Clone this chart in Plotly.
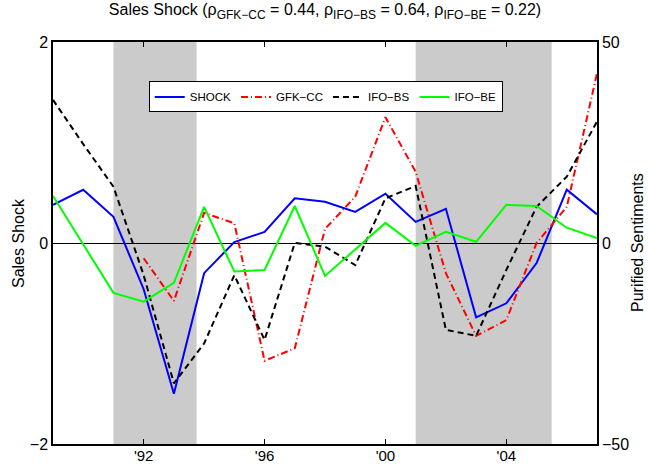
import plotly.graph_objects as go

# Annual observations
years = list(range(1989, 2008))

# Sales shock (left axis)
shock = [0.38, 0.53, 0.26, -0.46, -1.50, -0.30, 0.01, 0.11, 0.445, 0.41,
         0.31, 0.49, 0.21, 0.34, -0.74, -0.60, -0.20, 0.53, 0.285]

# Purified sentiment indicators (right axis)
gfk_cc = [None, None, None, -3.8, -14.4, 7.5, 4.9, -29.3, -26.2, 3.5,
          11.5, 31.3, 17.7, -7.5, -23.1, -19.2, 0.0, 9.0, 42.2]
ifo_bs = [35.6, 24.6, 14.0, -8.0, -34.9, -25.0, -8.0, -24.1, 0.0, -0.9,
          -5.5, 11.1, 14.2, -21.6, -23.1, -6.7, 9.0, 16.5, 30.2]
ifo_be = [11.7, -0.3, -12.4, -14.6, -9.9, 9.0, -7.1, -6.7, 9.2, -8.2,
          -1.6, 5.0, -0.7, 2.8, 0.3, 9.5, 9.2, 3.8, 1.2]

# Recession periods (start, end)
recessions = [(1991.0, 1993.75), (2001.0, 2005.5)]

# Correlations with the shock, shown in the title
rho_names = ["GFK−CC", "IFO−BS", "IFO−BE"]
rho_values = [0.44, 0.64, 0.22]

x_tickvals = [1992, 1996, 2000, 2004]
x_ticktext = ["'92", "'96", "'00", "'04"]
y1_tickvals = [-2, 0, 2]
y1_ticktext = ["−2", "0", "2"]
y2_tickvals = [-50, 0, 50]
y2_ticktext = ["−50", "0", "50"]

FONT = "Liberation Sans, Arial, Helvetica, sans-serif"

fig = go.Figure()

fig.add_trace(go.Scatter(x=years, y=shock, name="SHOCK", mode="lines",
                         line=dict(color="#0000ff", width=2), yaxis="y"))
fig.add_trace(go.Scatter(x=years, y=gfk_cc, name="GFK−CC", mode="lines",
                         line=dict(color="#ff0000", width=2, dash="7px,3px,1px,3px"),
                         yaxis="y2"))
fig.add_trace(go.Scatter(x=years, y=ifo_bs, name="IFO−BS", mode="lines",
                         line=dict(color="#000000", width=2, dash="6px,4px"),
                         yaxis="y2"))
fig.add_trace(go.Scatter(x=years, y=ifo_be, name="IFO−BE", mode="lines",
                         line=dict(color="#00ff00", width=2), yaxis="y2"))

shapes = []
for x0, x1 in recessions:
    shapes.append(dict(type="rect", xref="x", yref="paper", x0=x0, x1=x1,
                       y0=0, y1=1, fillcolor="#cbcbcb", line=dict(width=0),
                       layer="below"))

title_text = "Sales Shock (" + ", ".join(
    f"ρ<sub><span style='font-size:12px'>{k}</span></sub> = {v:.2f}"
    for k, v in zip(rho_names, rho_values)) + ")"

fig.update_layout(
    template="none",
    width=648, height=466,
    margin=dict(l=53, r=51, t=42, b=22),
    paper_bgcolor="white", plot_bgcolor="white",
    font=dict(family=FONT, size=16, color="black"),
    showlegend=True,
    title=dict(text=title_text, x=0.5, xref="paper", xanchor="center",
               y=1 - 4 / 466, yanchor="top", font=dict(size=16)),
    shapes=shapes,
    legend=dict(orientation="h", x=0.176, y=0.902, xanchor="left", yanchor="top",
                bgcolor="white", bordercolor="black", borderwidth=1,
                font=dict(size=11.5), tracegroupgap=0, itemwidth=30),
    xaxis=dict(range=[1989, 2007], tickvals=x_tickvals, ticktext=x_ticktext,
               ticks="inside", ticklen=5, tickwidth=1, tickcolor="black",
               showline=True, linecolor="black", linewidth=1.5, mirror="ticks",
               showgrid=False, zeroline=False, automargin=False,
               ticklabelstandoff=-3, tickfont=dict(size=15)),
    yaxis=dict(range=[-2, 2], tickvals=y1_tickvals, ticktext=y1_ticktext,
               ticks="inside", ticklen=5, tickwidth=1, tickcolor="black",
               showline=True, linecolor="black", linewidth=1.5,
               showgrid=False, zeroline=True, zerolinecolor="black",
               zerolinewidth=1, automargin=False, tickfont=dict(size=16)),
    yaxis2=dict(range=[-50, 50], tickvals=y2_tickvals, ticktext=y2_ticktext,
                overlaying="y", side="right", anchor="x",
                ticks="inside", ticklen=5, tickwidth=1, tickcolor="black",
                showline=True, linecolor="black", linewidth=1.5,
                showgrid=False, zeroline=False, automargin=False,
                tickfont=dict(size=16)),
    annotations=[
        dict(text="Sales Shock", textangle=-90, xref="paper", yref="paper",
             x=(18 - 53) / 544, y=0.5, xanchor="center", yanchor="middle",
             showarrow=False, font=dict(size=16)),
        dict(text="Purified Sentiments", textangle=-90, xref="paper", yref="paper",
             x=(637 - 53) / 544, y=0.5, xanchor="center", yanchor="middle",
             showarrow=False, font=dict(size=16)),
    ],
)

fig.write_html("out.html")
